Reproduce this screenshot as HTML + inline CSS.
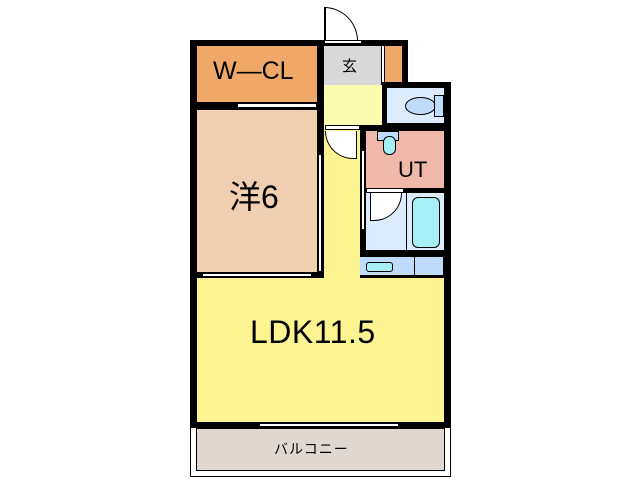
<!DOCTYPE html>
<html><head><meta charset="utf-8"><style>
body{margin:0;width:640px;height:480px;background:#fff;position:relative;overflow:hidden;font-family:"Liberation Sans","Noto Sans CJK JP",sans-serif}
div{position:absolute;box-sizing:border-box}
.t{color:#000;white-space:nowrap}
</style></head><body>
<div style="left:190px;top:426px;width:261px;height:51px;border:1px solid #000;background:#fff"></div>
<div style="left:196px;top:428px;width:249px;height:43px;border:1px solid #000;background:#e0d8d0"></div>
<div style="left:190px;top:40px;width:218px;height:388px;background:#000"></div>
<div style="left:358px;top:82px;width:93px;height:346px;background:#000"></div>
<div style="left:382px;top:82px;width:69px;height:10px;background:#000"></div>
<div style="left:197px;top:46px;width:120px;height:56px;background:#f0a868"></div>
<div style="left:197px;top:110px;width:120px;height:162px;background:#f0d0b0"></div>
<div style="left:324px;top:46px;width:57px;height:39px;background:#d8d8d8"></div>
<div style="left:385px;top:46px;width:17px;height:36px;background:#f0a868"></div>
<div style="left:381px;top:46px;width:4px;height:36px;background:#fff;border-left:1px solid #000;border-right:1px solid #000"></div>
<div style="left:324px;top:85px;width:58px;height:40px;background:#fcfcb0"></div>
<div style="left:387px;top:88px;width:57px;height:35px;background:#dcecfc"></div>
<div style="left:324px;top:125px;width:36px;height:153px;background:#fcf490"></div>
<div style="left:366px;top:131px;width:78px;height:57px;background:#f0b8a8"></div>
<div style="left:366px;top:193px;width:40px;height:57px;background:#dcecfc"></div>
<div style="left:407px;top:193px;width:37px;height:57px;background:#dcecfc"></div>
<div style="left:412px;top:197px;width:28px;height:51px;background:#a8f0f8;border:1px solid #000;border-radius:6px"></div>
<div style="left:358px;top:256px;width:86px;height:20px;background:#c0dcfc;border:1px solid #000"></div>
<div style="left:414px;top:256px;width:1px;height:20px;background:#000"></div>
<div style="left:366px;top:262px;width:27px;height:10px;background:#a8f0f8;border:1px solid #000;border-radius:3px"></div>
<div style="left:197px;top:278px;width:247px;height:144px;background:#fcf490"></div>
<div style="left:358px;top:256px;width:2px;height:22px;background:#fcf490"></div>
<!-- toilet -->
<div style="left:405px;top:97px;width:31px;height:18px;background:#c0dcfc;border:1px solid #000;border-radius:50%"></div>
<div style="left:434px;top:95px;width:10px;height:22px;background:#c0dcfc;border:1px solid #000"></div>
<div style="left:377px;top:131px;width:22px;height:10px;background:#c0dcfc;border:1px solid #000"></div>
<div style="left:383px;top:136px;width:13px;height:19px;background:#a8f0f8;border:1px solid #000;border-radius:6px"></div>
<!-- doors -->
<div style="left:324px;top:7px;width:34px;height:34px;border:1px solid #000;border-radius:0 34px 0 0;border-bottom:none;border-left:2px solid #000;background:#fff"></div>
<div style="left:324px;top:40px;width:38px;height:4px;background:#fff;border:1px solid #000"></div>
<div style="left:325px;top:131px;width:32px;height:28px;background:#fff;border-radius:0 0 0 32px;border:1px solid #000;border-top:none"></div>
<div style="left:325px;top:125px;width:35px;height:5px;background:#fff;border:1px solid #000"></div>
<div style="left:370px;top:193px;width:32px;height:28px;background:#fff;border-radius:0 0 32px 0;border:1px solid #000;border-top:none"></div>
<div style="left:366px;top:188px;width:38px;height:5px;background:#fff;border:1px solid #000"></div>
<div style="left:361px;top:150px;width:4px;height:80px;background:#fff;border:1px solid #000"></div>
<div style="left:318px;top:154px;width:4px;height:118px;background:#fff;border:1px solid #000"></div>
<div style="left:237px;top:103px;width:80px;height:5px;background:#fff;border:1px solid #000"></div>
<div style="left:202px;top:273px;width:110px;height:4px;background:#fff;border:1px solid #000"></div>
<div style="left:259px;top:423px;width:140px;height:4px;background:#fff;border:1px solid #000"></div>
<!-- labels -->
<div class="t" style="left:213px;top:57px;font-size:25px">W—CL</div>
<div class="t" style="left:342px;top:55px;font-size:15px">玄</div>
<div class="t" style="left:229px;top:172px;font-size:32px">洋6</div>
<div class="t" style="left:398px;top:157px;font-size:22px">UT</div>
<div class="t" style="left:250px;top:314px;font-size:32px;letter-spacing:0.5px">LDK11.5</div>
<div class="t" style="left:274px;top:439px;font-size:14px;letter-spacing:1px">バルコニー</div>
</body></html>
